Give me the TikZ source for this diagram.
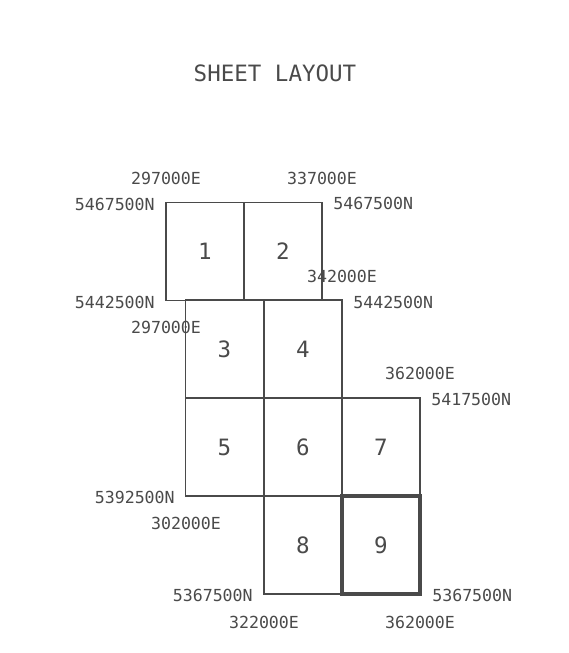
\documentclass[tikz,border=0pt]{standalone}
\usepackage{fontspec}
\newfontfamily\plotfont{DejaVu Sans Mono}
\usetikzlibrary{positioning}
\definecolor{InkGray}{HTML}{4A4A4A}

\begin{document}
\begin{tikzpicture}[
  x=0.025cm, y=-0.025cm,
  sheet/.style={draw=InkGray, line width=1pt, minimum width=1.95cm, minimum height=2.45cm, inner sep=0pt, text=InkGray, font=\plotfont\fontsize{16}{16}\selectfont},
  current/.style={sheet, line width=2.6pt},
  coord/.style={inner sep=0pt, text=InkGray, font=\plotfont\fontsize{11.8}{12}\selectfont},
  heading/.style={inner sep=0pt, text=InkGray, font=\plotfont\fontsize{16}{16}\selectfont}
]
\useasboundingbox (0,0) rectangle (568,653);

\node[heading] (title) at (275,73) {SHEET LAYOUT};

% sheets
\node[sheet] (s1) at (205,251.5) {1};
\node[sheet] (s2) at (283,251.5) {2};
\node[sheet] (s3) at (224.5,349) {3};
\node[sheet] (s4) at (303,349) {4};
\node[sheet] (s5) at (224.5,447) {5};
\node[sheet] (s6) at (303,447) {6};
\node[sheet] (s7) at (381,447) {7};
\node[sheet] (s8) at (303,545) {8};
\node[current] (s9) at (381,545) {9};

% eastings
\node[coord] (e1) at (166,178) {297000E};
\node[coord] (e2) at (322,178) {337000E};
\node[coord] (e3) at (342,276) {342000E};
\node[coord] (e4) at (166,327) {297000E};
\node[coord] (e5) at (420,373) {362000E};
\node[coord] (e6) at (186,523) {302000E};
\node[coord] (e7) at (264,622) {322000E};
\node[coord] (e8) at (420,622) {362000E};

% northings
\node[coord, anchor=east] (n1) at (155,204) {5467500N};
\node[coord, anchor=west] (n2) at (333,203) {5467500N};
\node[coord, anchor=east] (n3) at (155,302) {5442500N};
\node[coord, anchor=west] (n4) at (353,302) {5442500N};
\node[coord, anchor=west] (n5) at (431,399) {5417500N};
\node[coord, anchor=east] (n6) at (175,497) {5392500N};
\node[coord, anchor=east] (n7) at (253,595) {5367500N};
\node[coord, anchor=west] (n8) at (432,595) {5367500N};
\end{tikzpicture}
\end{document}
